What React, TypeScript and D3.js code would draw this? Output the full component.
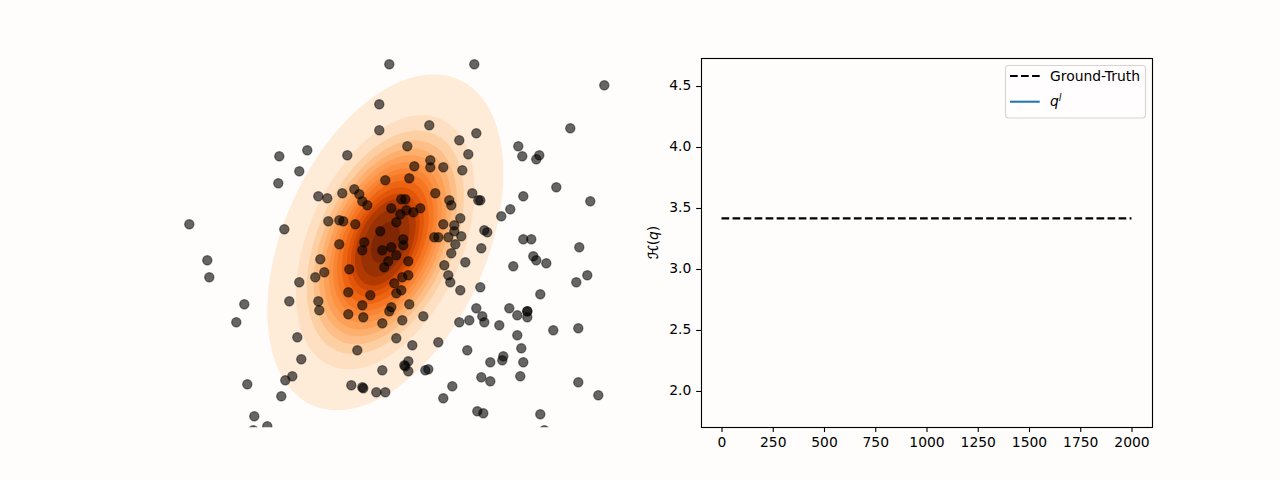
import { useEffect, useRef } from 'react'
import * as d3 from 'd3'

// samples of the left panel, no axis shown so units are arbitrary
const pointsX = [
  4, -6, -6, -78, -106, -38, -86, -107, 0, -31, -26, -67, -58, -43, -23, -18, 6, 16, 20, 15, -57, -46, -42, -30, 11, -5, -196, -101,
  89, 219, 44, 91, 185, 74, 133, 22, 83, 137, 154, 151, 45, 45, 29, 58, 77, 24, 171, 50, 87, 138, 205, 64, 66, 93, 95, 35, 28, 21, 125, 116, 75, 58, 69, 69, 99, 102, 76, 49, 53, 63, 18, 138, 146,
  -178, -176, -46, -21, -23, -3, 6, 11, 3, -1, -65, -61, -70, -36, -86, 9, -37, 11, -15, -96, -67, -23, -66, 6, 4, -141, -149, -37, -22, -3, 17, 11, -88, -28, -84, -93, -100, -3, -138, -34, -23, -22, -9, 0, -104, -131, -118, -132,
  194, 96, 70, 66, 18, 148, 151, 161, 80, 128, 59, 23, 202, 191, 63, 65, 23, 17, 75, 95, 155, 16, 24, 91, 124, 97, 99, 132, 142, 142, 142, 38, 74, 84, 114, 168, 193, 132, 27, 53, 136, 82, 118, 117, 105, 138, 23, 19, 20, 23, 40, 43, 96, 135, 105, 193, 67, 58, 213, 92, 98, 155, 159,
]
const pointsY = [
  178, 138, 112, 92, 86, 87, 71, 59, 62, 53, 48, 46, 44, 49, 41, 37, 34, 43, 43, 28, 21, 22, 21, 18, 20, 11, 18, 13,
  178, 157, 117, 109, 114, 102, 96, 96, 88, 86, 87, 83, 82, 75, 76, 75, 72, 64, 55, 49, 49, 46, 41, 42, 37, 42, 42, 34, 30, 32, 33, 26, 24, 18, 17, 11, 12, 10, 6, 5, 5, 5, 3, 3, 3,
  -18, -35, -2, 0, -8, -8, -5, -13, -19, -25, -17, -30, -35, -27, -40, -41, -50, -51, -53, -59, -59, -63, -68, -65, -69, -62, -80, -72, -75, -81, -78, -96, -95, -108, -117, -134, -138, -128, -142, -143, -145, -146, -150, -150, -154, -174, -184, -188,
  -5, -6, -2, -11, -3, -14, -18, -21, -20, -24, -23, -19, -33, -40, -33, -40, -33, -35, -48, -45, -52, -48, -62, -66, -66, -74, -80, -73, -69, -69, -75, -74, -80, -78, -83, -88, -86, -93, -103, -100, -106, -108, -114, -118, -120, -120, -119, -123, -124, -129, -128, -127, -135, -134, -139, -140, -144, -156, -153, -169, -171, -172, -188,
]

// density of q
const meanX = 0
const meanY = 0
const sigmaX = 48.2
const sigmaY = 68.6
const rho = 0.41
const levels = [0.05, 0.18, 0.265, 0.331, 0.391, 0.446, 0.504, 0.558, 0.607, 0.667, 0.726, 0.777, 0.82, 0.882, 0.956]
const bandShades = [0.08, 0.16, 0.24, 0.31, 0.37, 0.43, 0.48, 0.53, 0.58, 0.64, 0.7, 0.77, 0.85, 0.92, 1]

// right panel
const truthX = [0, 2000]
const truthY = [3.415, 3.415]
const xTicks = [0, 250, 500, 750, 1000, 1250, 1500, 1750, 2000]
const yTicks = [2.0, 2.5, 3.0, 3.5, 4.0, 4.5]

const W = 1280
const H = 480
const BG = '#fffdfc'
const FONT = '"DejaVu Sans", sans-serif'

export default function App() {
  const ref = useRef<SVGSVGElement | null>(null)

  useEffect(() => {
    const svg = d3.select(ref.current)
    svg.selectAll('*').remove()

    svg.append('rect').attr('width', W).attr('height', H).attr('fill', BG)

    const top = 57.6
    const bottom = 427.2

    // left panel
    const left = svg.append('g')
    const xL = d3.scaleLinear().domain([-225.3, 225.7]).range([160, 611])
    const yL = d3.scaleLinear().domain([-184.9, 184.7]).range([bottom, top])

    svg.append('clipPath').attr('id', 'clipL')
      .append('rect').attr('x', 160).attr('y', top).attr('width', 451).attr('height', bottom - top)

    const n = 451
    const m = Math.round(bottom - top)
    const field: number[] = new Array(n * m)
    for (let j = 0; j < m; j++) {
      for (let i = 0; i < n; i++) {
        const u = (xL.invert(160 + i + 0.5) - meanX) / sigmaX
        const v = (yL.invert(top + j + 0.5) - meanY) / sigmaY
        field[j * n + i] = Math.exp(-(u * u - 2 * rho * u * v + v * v) / (2 * (1 - rho * rho)))
      }
    }
    const contours = d3.contours().size([n, m]).thresholds(levels)(field)
    const path = d3.geoPath()
    left.append('g')
      .attr('transform', `translate(160,${top})`)
      .selectAll('path')
      .data(contours)
      .enter()
      .append('path')
      .attr('d', (d) => path(d as any))
      .attr('fill', (d, i) => d3.interpolateOranges(bandShades[i]))

    left.append('g')
      .attr('clip-path', 'url(#clipL)')
      .selectAll('circle')
      .data(pointsX)
      .enter()
      .append('circle')
      .attr('cx', (d) => xL(d))
      .attr('cy', (d, i) => yL(pointsY[i]))
      .attr('r', 4.6)
      .attr('fill', '#000')
      .attr('fill-opacity', 0.6)
      .attr('stroke', '#000')
      .attr('stroke-opacity', 0.5)
      .attr('stroke-width', 1.2)

    // right panel
    const xR = d3.scaleLinear().domain([-100, 2100]).range([701, 1152])
    const yR = d3.scaleLinear().domain([1.703, 4.733]).range([bottom, top])

    const right = svg.append('g')
    const line = d3.line<number>().x((d) => xR(d)).y((d, i) => yR(truthY[i]))
    right.append('path')
      .attr('d', line(truthX))
      .attr('fill', 'none')
      .attr('stroke', '#000')
      .attr('stroke-width', 2.08)
      .attr('stroke-dasharray', '7.7 3.33')

    const axisX = right.append('g')
      .attr('transform', `translate(0,${bottom})`)
      .call(d3.axisBottom(xR).tickValues(xTicks).tickSize(4.86).tickPadding(4.86).tickFormat((d) => String(d)))
    const axisY = right.append('g')
      .attr('transform', 'translate(701,0)')
      .call(d3.axisLeft(yR).tickValues(yTicks).tickSize(4.86).tickPadding(4.86).tickFormat(d3.format('.1f')))
    for (const axis of [axisX, axisY]) {
      axis.select('.domain').remove()
      axis.attr('font-family', FONT).attr('font-size', 13.89)
      axis.selectAll('line').attr('stroke', '#000').attr('stroke-width', 1.11)
      axis.selectAll('text').attr('fill', '#000')
    }
    axisY.selectAll('text').attr('dy', '0.27em')

    right.append('rect')
      .attr('x', 701.5).attr('y', 58.5).attr('width', 451).attr('height', 369)
      .attr('fill', 'none').attr('stroke', '#000').attr('stroke-width', 1.11)

    const yLabel = right.append('text')
      .attr('transform', 'translate(658,242.4) rotate(-90)')
      .attr('text-anchor', 'middle')
      .attr('font-family', FONT)
      .attr('font-size', 13.89)
      .attr('fill', '#000')
    yLabel.append('tspan').attr('font-style', 'italic').attr('stroke', '#000').attr('stroke-width', 0.35).text('ℋ')
    yLabel.append('tspan').text('(')
    yLabel.append('tspan').attr('font-style', 'italic').text('q')
    yLabel.append('tspan').text(')')

    // legend
    const legend = right.append('g')
    legend.append('rect')
      .attr('x', 1005.5).attr('y', 65.5).attr('width', 140).attr('height', 52.5).attr('rx', 3)
      .attr('fill', BG).attr('fill-opacity', 0.8).attr('stroke', '#d9d4cf').attr('stroke-width', 1.11)
    legend.append('line')
      .attr('x1', 1010).attr('x2', 1039.7).attr('y1', 76).attr('y2', 76)
      .attr('stroke', '#000').attr('stroke-width', 2.08).attr('stroke-dasharray', '7.7 3.33')
    legend.append('line')
      .attr('x1', 1010).attr('x2', 1039.7).attr('y1', 101.7).attr('y2', 101.7)
      .attr('stroke', '#1f77b4').attr('stroke-width', 2.08)
    legend.append('text')
      .attr('x', 1050).attr('y', 81).attr('font-family', FONT).attr('font-size', 13.89).attr('fill', '#000')
      .text('Ground-Truth')
    const qLabel = legend.append('text')
      .attr('x', 1050).attr('y', 106).attr('font-family', FONT).attr('font-size', 13.89).attr('fill', '#000')
      .attr('font-style', 'italic')
    qLabel.append('tspan').text('q')
    qLabel.append('tspan').attr('dy', -5).attr('font-size', 9.7).text('l')
  }, [])

  return <svg ref={ref} width={W} height={H} style={{ position: 'absolute', left: 0, top: 0, display: 'block' }} />
}
